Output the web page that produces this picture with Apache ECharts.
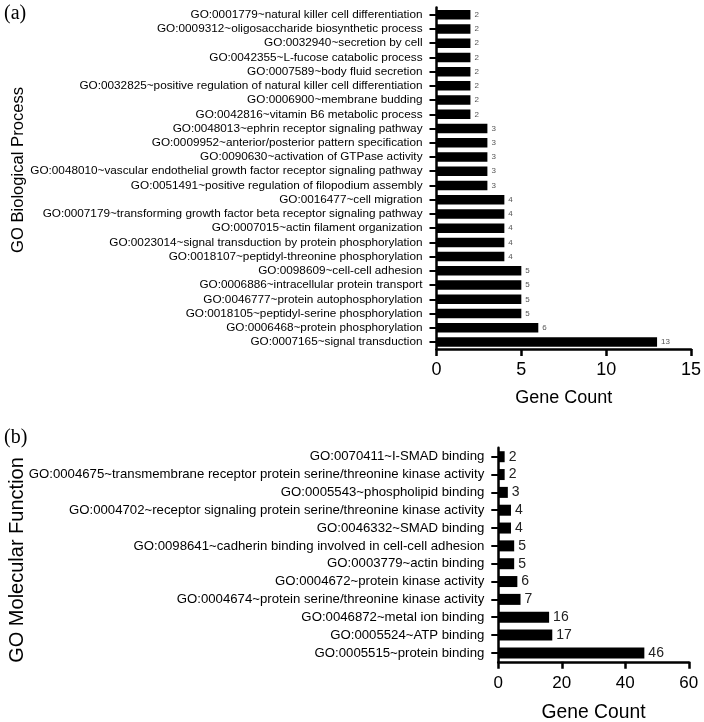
<!DOCTYPE html>
<html>
<head>
<meta charset="utf-8">
<script src="https://cdn.jsdelivr.net/npm/echarts@6/dist/echarts.min.js"></script>
<style>
html,body{margin:0;padding:0;background:#fff;}
#chart{width:704px;height:722px;}
</style>
</head>
<body>
<div id="chart"></div>
<script>
// Panel (a): GO Biological Process (top to bottom)
const bpTerms = [
  "GO:0001779~natural killer cell differentiation",
  "GO:0009312~oligosaccharide biosynthetic process",
  "GO:0032940~secretion by cell",
  "GO:0042355~L-fucose catabolic process",
  "GO:0007589~body fluid secretion",
  "GO:0032825~positive regulation of natural killer cell differentiation",
  "GO:0006900~membrane budding",
  "GO:0042816~vitamin B6 metabolic process",
  "GO:0048013~ephrin receptor signaling pathway",
  "GO:0009952~anterior/posterior pattern specification",
  "GO:0090630~activation of GTPase activity",
  "GO:0048010~vascular endothelial growth factor receptor signaling pathway",
  "GO:0051491~positive regulation of filopodium assembly",
  "GO:0016477~cell migration",
  "GO:0007179~transforming growth factor beta receptor signaling pathway",
  "GO:0007015~actin filament organization",
  "GO:0023014~signal transduction by protein phosphorylation",
  "GO:0018107~peptidyl-threonine phosphorylation",
  "GO:0098609~cell-cell adhesion",
  "GO:0006886~intracellular protein transport",
  "GO:0046777~protein autophosphorylation",
  "GO:0018105~peptidyl-serine phosphorylation",
  "GO:0006468~protein phosphorylation",
  "GO:0007165~signal transduction"
];
const bpCounts = [2,2,2,2,2,2,2,2,3,3,3,3,3,4,4,4,4,4,5,5,5,5,6,13];
const bpTicks = [0,5,10,15];

// Panel (b): GO Molecular Function (top to bottom)
const mfTerms = [
  "GO:0070411~I-SMAD binding",
  "GO:0004675~transmembrane receptor protein serine/threonine kinase activity",
  "GO:0005543~phospholipid binding",
  "GO:0004702~receptor signaling protein serine/threonine kinase activity",
  "GO:0046332~SMAD binding",
  "GO:0098641~cadherin binding involved in cell-cell adhesion",
  "GO:0003779~actin binding",
  "GO:0004672~protein kinase activity",
  "GO:0004674~protein serine/threonine kinase activity",
  "GO:0046872~metal ion binding",
  "GO:0005524~ATP binding",
  "GO:0005515~protein binding"
];
const mfCounts = [2,2,3,4,4,5,5,6,7,16,17,46];
const mfTicks = [0,20,40,60];

const FONT = '"Liberation Sans", Arial, Helvetica, sans-serif';
const chart = echarts.init(document.getElementById('chart'), null, {renderer:'canvas'});

function xAxisCfg(gridIndex, ticks, fs, margin, nameGap, nameSize){
  return {
    type:'value', gridIndex, min:ticks[0], max:ticks[ticks.length-1],
    interval:ticks[1]-ticks[0],
    name:'Gene Count', nameLocation:'middle', nameGap, nameMoveOverlap:false,
    nameTextStyle:{fontFamily:FONT, fontSize:nameSize, color:'#000'},
    axisLine:{show:true, lineStyle:{color:'#000', width:2.5}},
    axisTick:{show:true, length:7, lineStyle:{color:'#000', width:2.5}},
    axisLabel:{fontFamily:FONT, fontSize:fs, color:'#000', margin},
    splitLine:{show:false}
  };
}
function yAxisCfg(gridIndex, terms, fs, margin){
  return {
    type:'category', gridIndex, data:terms, inverse:true,
    axisLine:{show:true, onZero:false, lineStyle:{color:'#000', width:2.5}},
    axisTick:{show:true, alignWithLabel:true, length:7, lineStyle:{color:'#000', width:2}},
    axisLabel:{fontFamily:FONT, fontSize:fs, color:'#000', margin, interval:0},
    splitLine:{show:false}
  };
}

chart.setOption({
  animation:false,
  backgroundColor:'#fff',
  grid:[
    {left:436.5, top:7.6, width:254.5, height:341.5, outerBoundsMode:'none', containLabel:false},
    {left:498.3, top:447.8, width:190.5, height:214, outerBoundsMode:'none', containLabel:false}
  ],
  xAxis:[
    xAxisCfg(0, bpTicks, 18, 12, 40, 18),
    xAxisCfg(1, mfTicks, 17, 13, 41, 19.3)
  ],
  yAxis:[
    yAxisCfg(0, bpTerms, 11.75, 14),
    yAxisCfg(1, mfTerms, 13.2, 14)
  ],
  graphic:[
    {type:'text', left:4, top:4, style:{text:'(a)', font:'20px "Liberation Serif", "Times New Roman", serif', fill:'#000'}},
    {type:'text', left:4, top:428, style:{text:'(b)', font:'20px "Liberation Serif", "Times New Roman", serif', fill:'#000'}},
    {type:'text', x:18, y:170, rotation:Math.PI/2, style:{text:'GO Biological Process', font:'16.6px "Liberation Sans", Arial, sans-serif', fill:'#000', align:'center', verticalAlign:'middle'}},
    {type:'text', x:17, y:560, rotation:Math.PI/2, style:{text:'GO Molecular Function', font:'20px "Liberation Sans", Arial, sans-serif', fill:'#000', align:'center', verticalAlign:'middle'}}
  ],
  series:[
    {type:'bar', xAxisIndex:0, yAxisIndex:0, data:bpCounts, barWidth:9.5,
     itemStyle:{color:'#000'},
     label:{show:true, position:'right', distance:4, fontFamily:FONT, fontSize:8, color:'#555'}},
    {type:'bar', xAxisIndex:1, yAxisIndex:1, data:mfCounts, barWidth:11,
     itemStyle:{color:'#000'},
     label:{show:true, position:'right', distance:4, fontFamily:FONT, fontSize:14, color:'#222'}}
  ]
});
</script>
</body>
</html>
